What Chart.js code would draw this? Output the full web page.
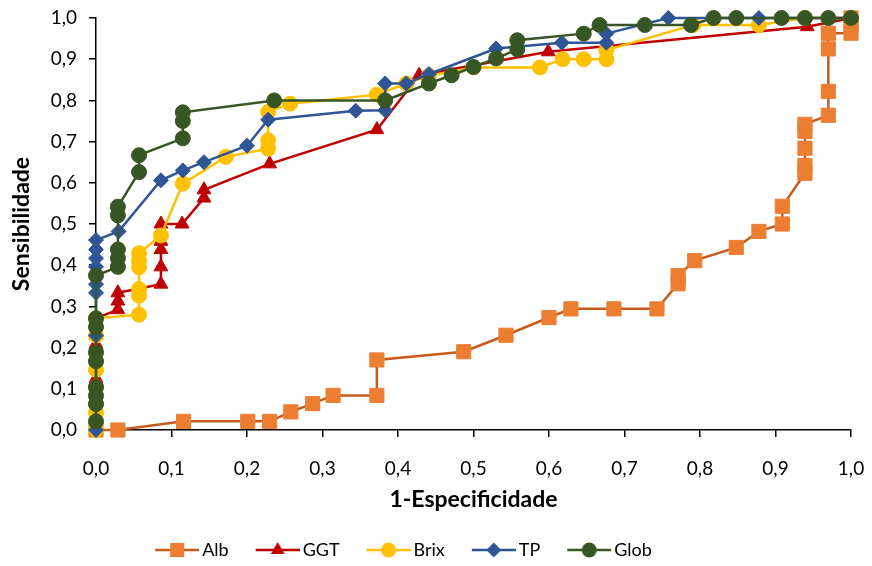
<!DOCTYPE html>
<html>
<head>
<meta charset="utf-8">
<script src="https://cdn.jsdelivr.net/npm/chart.js@4.4.1/dist/chart.umd.min.js"></script>
<style>
  html, body { margin: 0; padding: 0; background: #fff; }
</style>
</head>
<body>
<canvas id="roc" width="872" height="566"></canvas>
<script>
// ROC curves (x = 1-Especificidade, y = Sensibilidade)
const albX = [0, 0.029, 0.116, 0.201, 0.230, 0.258, 0.287, 0.314, 0.372, 0.372, 0.487, 0.543, 0.600, 0.629, 0.686, 0.743, 0.771, 0.771, 0.793, 0.848, 0.878, 0.909, 0.909, 0.939, 0.939, 0.939, 0.939, 0.939, 0.970, 0.970, 0.970, 0.970, 1, 1, 1];
const albY = [0, 0, 0.021, 0.021, 0.021, 0.044, 0.064, 0.084, 0.084, 0.170, 0.190, 0.230, 0.273, 0.294, 0.294, 0.294, 0.355, 0.375, 0.411, 0.443, 0.482, 0.500, 0.543, 0.623, 0.642, 0.684, 0.725, 0.742, 0.764, 0.822, 0.925, 0.963, 0.963, 0.980, 1];

const ggtX = [0, 0, 0, 0, 0, 0, 0.029, 0.029, 0.029, 0.086, 0.086, 0.086, 0.086, 0.086, 0.114, 0.143, 0.143, 0.230, 0.372, 0.428, 0.599, 0.942, 1];
const ggtY = [0, 0.125, 0.167, 0.208, 0.229, 0.271, 0.292, 0.313, 0.333, 0.354, 0.396, 0.438, 0.458, 0.500, 0.500, 0.563, 0.583, 0.646, 0.729, 0.861, 0.918, 0.979, 1];

const brixX = [0, 0, 0, 0, 0, 0, 0, 0, 0.057, 0.057, 0.057, 0.057, 0.057, 0.057, 0.086, 0.115, 0.172, 0.228, 0.228, 0.228, 0.257, 0.372, 0.411, 0.441, 0.500, 0.588, 0.618, 0.646, 0.676, 0.676, 0.791, 0.878, 0.939, 1];
const brixY = [0, 0.042, 0.063, 0.104, 0.146, 0.167, 0.229, 0.271, 0.280, 0.326, 0.342, 0.395, 0.411, 0.429, 0.472, 0.598, 0.663, 0.683, 0.703, 0.772, 0.792, 0.814, 0.841, 0.860, 0.880, 0.880, 0.900, 0.900, 0.900, 0.922, 0.983, 0.983, 1, 1];

const tpX = [0, 0, 0, 0, 0, 0, 0, 0, 0.030, 0.086, 0.115, 0.143, 0.200, 0.228, 0.344, 0.383, 0.383, 0.411, 0.441, 0.530, 0.617, 0.676, 0.676, 0.758, 0.878, 1];
const tpY = [0, 0.229, 0.333, 0.354, 0.396, 0.417, 0.438, 0.461, 0.482, 0.606, 0.630, 0.650, 0.690, 0.753, 0.775, 0.776, 0.841, 0.841, 0.864, 0.926, 0.940, 0.940, 0.962, 1, 1, 1];

const globX = [0, 0, 0, 0, 0, 0, 0, 0, 0, 0.029, 0.029, 0.029, 0.029, 0.029, 0.057, 0.057, 0.115, 0.115, 0.115, 0.236, 0.383, 0.441, 0.471, 0.500, 0.530, 0.558, 0.558, 0.646, 0.667, 0.727, 0.788, 0.818, 0.848, 0.908, 0.939, 0.970, 1];
const globY = [0.021, 0.063, 0.083, 0.104, 0.167, 0.188, 0.250, 0.271, 0.375, 0.396, 0.417, 0.438, 0.521, 0.542, 0.626, 0.667, 0.708, 0.750, 0.771, 0.800, 0.800, 0.841, 0.861, 0.881, 0.902, 0.924, 0.946, 0.962, 0.983, 0.983, 0.983, 1, 1, 1, 1, 1, 1];

const xTickLabels = ['0,0', '0,1', '0,2', '0,3', '0,4', '0,5', '0,6', '0,7', '0,8', '0,9', '1,0'];
const yTickLabels = ['0,0', '0,1', '0,2', '0,3', '0,4', '0,5', '0,6', '0,7', '0,8', '0,9', '1,0'];

Chart.defaults.font.family = 'Lato, "Liberation Sans", sans-serif';
Chart.defaults.color = '#000';

function toPoints(xs, ys) {
    return xs.map((x, i) => ({ x: x, y: ys[i] }));
}

function makeSet(label, xs, ys, lineColor, markColor, style, radius, order) {
    return {
        label: label,
        data: toPoints(xs, ys),
        showLine: true,
        borderColor: lineColor,
        borderWidth: 2.5,
        backgroundColor: markColor,
        pointStyle: style,
        pointRadius: radius,
        pointHoverRadius: radius,
        pointBackgroundColor: markColor,
        pointBorderColor: markColor,
        pointBorderWidth: 1,
        order: order,
        clip: false
    };
}

const datasets = [
    makeSet('Alb', albX, albY, '#C65A1B', '#ED7D31', 'rect', 10, 4),
    makeSet('GGT', ggtX, ggtY, '#C00000', '#C00000', 'triangle', 8, 3),
    makeSet('Brix', brixX, brixY, '#FFC000', '#FFC000', 'circle', 7.5, 2),
    makeSet('TP', tpX, tpY, '#2F5597', '#2F5597', 'rectRot', 7.5, 1),
    makeSet('Glob', globX, globY, '#375623', '#375623', 'circle', 7.5, 0)
];

// legend icon: a short line with the series marker on it
function drawMark(g, style, r, x, y) {
    g.beginPath();
    if (style === 'rect') {
        const s = r * Math.SQRT1_2;
        g.rect(x - s, y - s, 2 * s, 2 * s);
    } else if (style === 'triangle') {
        g.moveTo(x, y - r);
        g.lineTo(x + r * 0.866, y + r * 0.5);
        g.lineTo(x - r * 0.866, y + r * 0.5);
        g.closePath();
    } else if (style === 'rectRot') {
        g.moveTo(x - r, y);
        g.lineTo(x, y - r);
        g.lineTo(x + r, y);
        g.lineTo(x, y + r);
        g.closePath();
    } else {
        g.arc(x, y, r, 0, Math.PI * 2);
    }
    g.fill();
}

function legendIcon(ds) {
    const c = document.createElement('canvas');
    c.width = 52;
    c.height = 20;
    const g = c.getContext('2d');
    g.strokeStyle = ds.borderColor;
    g.lineWidth = 2.5;
    g.beginPath();
    g.moveTo(8, 10);
    g.lineTo(52, 10);
    g.stroke();
    g.fillStyle = ds.pointBackgroundColor;
    drawMark(g, ds.pointStyle, ds.pointRadius, 30, 10);
    return c;
}

const icons = datasets.map(legendIcon);

// Excel centres its legend a bit left of the canvas middle and a little lower
const legendShift = {
    id: 'legendShift',
    afterLayout(chart) {
        chart.legend.left -= 46;
        chart.legend.top += 3;
        chart.legend.bottom += 3;
    }
};

const config = {
    type: 'scatter',
    data: { datasets: datasets },
    options: {
        responsive: false,
        animation: false,
        devicePixelRatio: 1,
        layout: { padding: { top: 18, right: 21, bottom: 0, left: 0 } },
        plugins: {
            legend: {
                position: 'bottom',
                labels: {
                    usePointStyle: true,
                    pointStyleWidth: 40,
                    padding: 25,
                    color: '#000',
                    font: { size: 18 },
                    generateLabels: (chart) => chart.data.datasets.map((ds, i) => ({
                        text: ds.label,
                        pointStyle: icons[i],
                        fillStyle: 'rgba(0,0,0,0)',
                        strokeStyle: 'rgba(0,0,0,0)',
                        lineWidth: 0,
                        hidden: false,
                        datasetIndex: i,
                        fontColor: '#000'
                    }))
                }
            },
            tooltip: { enabled: false }
        },
        scales: {
            x: {
                type: 'linear',
                position: 'bottom',
                min: 0,
                max: 1,
                afterFit: (s) => {
                    s.height = 83;
                    s.paddingLeft = 0;
                    s.paddingRight = 0;
                },
                ticks: {
                    stepSize: 0.1,
                    autoSkip: false,
                    maxRotation: 0,
                    padding: 20,
                    color: '#000',
                    font: { size: 19 },
                    callback: (v, i) => xTickLabels[i]
                },
                grid: { drawOnChartArea: false, drawTicks: true, tickLength: 7, tickColor: '#000', lineWidth: 1.5 },
                border: { display: true, color: '#000', width: 1.5 },
                title: {
                    display: true,
                    text: '1-Especificidade',
                    color: '#000',
                    font: { size: 23, weight: 'bold' },
                    padding: { top: 0, bottom: 0 }
                }
            },
            y: {
                type: 'linear',
                min: 0,
                max: 1,
                afterFit: (s) => {
                    s.width = 96;
                    s.paddingTop = 0;
                    s.paddingBottom = 0;
                },
                ticks: {
                    stepSize: 0.1,
                    autoSkip: false,
                    padding: 12,
                    color: '#000',
                    font: { size: 19 },
                    callback: (v, i) => yTickLabels[i]
                },
                grid: { drawOnChartArea: false, drawTicks: true, tickLength: 7, tickColor: '#000', lineWidth: 1.5 },
                border: { display: true, color: '#000', width: 1.5 },
                title: {
                    display: true,
                    text: 'Sensibilidade',
                    color: '#000',
                    font: { size: 23, weight: 'bold' },
                    padding: { top: 8, bottom: 0 }
                }
            }
        }
    },
    plugins: [legendShift]
};

const rocChart = new Chart(document.getElementById('roc'), config);
</script>
</body>
</html>
